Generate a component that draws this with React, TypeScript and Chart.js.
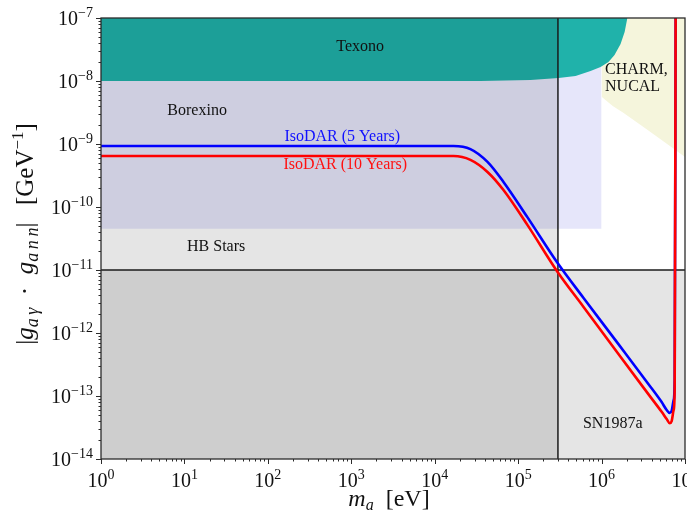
import React, { useEffect, useRef } from "react";
import { Chart, registerables } from "chart.js";

Chart.register(...registerables);

// ---- Data ----
const curveMassEv = [1, 1.68e4, 2.68e4, 4.29e4, 6.67e4, 1.29e5, 2.97e5, 6.08e5, 1.56e6, 3.87e6, 5.25e6, 6.03e6, 6.55e6, 6.92e6, 7.31e6, 7.52e6, 7.73e6];
const isodar5Years = [9.3e-10, 9.3e-10, 8.3e-10, 5.2e-10, 2.5e-10, 6.9e-11, 1.29e-11, 3.6e-12, 6.9e-13, 1.39e-13, 8.0e-14, 6.0e-14, 5.4e-14, 5.8e-14, 8.6e-14, 1.8e-13, 2e-7];
const isodar10Years = [6.45e-10, 6.45e-10, 5.6e-10, 3.6e-10, 1.86e-10, 5.2e-11, 9.3e-12, 2.59e-12, 4.8e-13, 9.6e-14, 5.6e-14, 4.3e-14, 3.7e-14, 4.0e-14, 6.0e-14, 1.24e-13, 2e-7];

const texonoMass = [1, 3.53e4, 1.41e5, 3.05e5, 4.88e5, 7.38e5, 9.73e5, 1.21e6, 1.43e6, 1.69e6, 1.89e6, 2.05e6];
const texonoFloor = [1e-8, 1e-8, 1.04e-8, 1.12e-8, 1.2e-8, 1.44e-8, 1.67e-8, 2.0e-8, 2.59e-8, 3.87e-8, 6.0e-8, 1.04e-7];

const charmMass = [1e6, 1e6, 1.36e6, 1.84e6, 3.57e6, 7.12e6, 1e7];
const charmFloor = [1e-7, 5.6e-9, 4.0e-9, 3.1e-9, 1.67e-9, 8.65e-10, 6.2e-10];

const borexinoMass = [1, 1e6];
const borexinoFloor = [4.5e-11, 4.5e-11];

const hbMass = [1, 3e5];
const hbTop = [1e-7, 1e-7];
const hbEdgeMass = [3e5, 3e5];
const hbEdgeCoupling = [1e-14, 1e-7];

const snMass = [1, 1e7];
const snCeiling = [1e-11, 1e-11];

const xTickExps = [0, 1, 2, 3, 4, 5, 6, 7];
const yTickExps = [-14, -13, -12, -11, -10, -9, -8, -7];

const regionLabels = [
  { text: "Texono", x: 1.28e3, y: 3.5e-8, color: "#111", align: "center" },
  { text: "Borexino", x: 14.2, y: 3.34e-9, color: "#111", align: "center" },
  { text: "IsoDAR (5 Years)", x: 780, y: 1.29e-9, color: "#1010ff", align: "center" },
  { text: "IsoDAR (10 Years)", x: 848, y: 4.64e-10, color: "#ff1010", align: "center" },
  { text: "HB Stars", x: 24, y: 2.3e-11, color: "#111", align: "center" },
  { text: "CHARM,", x: 1.1e6, y: 1.5e-8, color: "#111", align: "left" },
  { text: "NUCAL", x: 1.1e6, y: 8.0e-9, color: "#111", align: "left" },
  { text: "SN1987a", x: 1.36e6, y: 3.6e-14, color: "#111", align: "center" },
];

const SERIF = '"Liberation Serif", "DejaVu Serif", serif';
const SUP_DIGITS: Record<string, string> = { "-": "\u2212" };

type Run = { text: string; font: string; dy: number };

function runsWidth(ctx: CanvasRenderingContext2D, runs: Run[]) {
  let w = 0;
  for (const r of runs) {
    ctx.font = r.font;
    w += ctx.measureText(r.text).width;
  }
  return w;
}

function drawRuns(ctx: CanvasRenderingContext2D, runs: Run[], x: number, y: number, align: string) {
  const total = runsWidth(ctx, runs);
  let cx = align === "center" ? x - total / 2 : align === "right" ? x - total : x;
  ctx.textAlign = "left";
  ctx.textBaseline = "alphabetic";
  for (const r of runs) {
    ctx.font = r.font;
    ctx.fillText(r.text, cx, y + r.dy);
    cx += ctx.measureText(r.text).width;
  }
}

function supText(e: number) {
  return String(e)
    .split("")
    .map((c) => SUP_DIGITS[c] ?? c)
    .join("");
}

const axesPlugin = {
  id: "axesPlugin",
  afterDraw(chart: any) {
    const { ctx, chartArea } = chart;
    const { left, right, top, bottom } = chartArea;
    const xs = chart.scales.x;
    const ys = chart.scales.y;
    ctx.save();

    // region labels
    ctx.textBaseline = "middle";
    for (const l of regionLabels) {
      ctx.font = `16px ${SERIF}`;
      ctx.fillStyle = l.color;
      ctx.textAlign = l.align as CanvasTextAlign;
      ctx.fillText(l.text, xs.getPixelForValue(l.x), ys.getPixelForValue(l.y));
    }

    // frame
    ctx.strokeStyle = "#2b2b2b";
    ctx.lineWidth = 1.3;
    ctx.strokeRect(left, top, right - left, bottom - top);

    // ticks
    ctx.lineWidth = 1;
    ctx.strokeStyle = "#2b2b2b";
    ctx.beginPath();
    for (const e of xTickExps) {
      for (let k = 1; k <= 9; k++) {
        const v = k * Math.pow(10, e);
        if (v < xs.min * 0.999 || v > xs.max * 1.001) continue;
        const px = Math.round(xs.getPixelForValue(v)) + 0.5;
        const len = k === 1 ? 5 : 2.5;
        ctx.moveTo(px, bottom);
        ctx.lineTo(px, bottom + len);
      }
    }
    for (const e of yTickExps) {
      for (let k = 1; k <= 9; k++) {
        const v = k * Math.pow(10, e);
        if (v < ys.min * 0.999 || v > ys.max * 1.001) continue;
        const py = Math.round(ys.getPixelForValue(v)) + 0.5;
        const len = k === 1 ? 5 : 2.5;
        ctx.moveTo(left, py);
        ctx.lineTo(left - len, py);
      }
    }
    ctx.stroke();

    // tick labels
    ctx.fillStyle = "#111";
    for (const e of xTickExps) {
      const px = xs.getPixelForValue(Math.pow(10, e));
      drawRuns(
        ctx,
        [
          { text: "10", font: `20px ${SERIF}`, dy: 0 },
          { text: supText(e), font: `14px ${SERIF}`, dy: -8 },
        ],
        px,
        bottom + 28,
        "center"
      );
    }
    for (const e of yTickExps) {
      const py = ys.getPixelForValue(Math.pow(10, e));
      drawRuns(
        ctx,
        [
          { text: "10", font: `20px ${SERIF}`, dy: 0 },
          { text: supText(e), font: `14px ${SERIF}`, dy: -8 },
        ],
        left - 8,
        py + 7,
        "right"
      );
    }

    // x title
    drawRuns(
      ctx,
      [
        { text: "m", font: `italic 24px ${SERIF}`, dy: 0 },
        { text: "a", font: `italic 16px ${SERIF}`, dy: 4 },
        { text: "  [eV]", font: `24px ${SERIF}`, dy: 0 },
      ],
      (left + right) / 2 - 4,
      bottom + 47,
      "center"
    );

    // y title
    ctx.translate(25, 234);
    ctx.rotate(-Math.PI / 2);
    drawRuns(
      ctx,
      [
        { text: "|", font: `25px ${SERIF}`, dy: 0 },
        { text: "g", font: `italic 25px ${SERIF}`, dy: 0 },
        { text: "a\u2009\u03b3", font: `italic 18px ${SERIF}`, dy: 5 },
        { text: "\u2002\u00b7\u2002", font: `25px ${SERIF}`, dy: 0 },
        { text: "g", font: `italic 25px ${SERIF}`, dy: 0 },
        { text: "a\u2009n\u2009n", font: `italic 18px ${SERIF}`, dy: 5 },
        { text: "|\u2002\u2009[GeV", font: `25px ${SERIF}`, dy: 0 },
        { text: "\u22121", font: `17px ${SERIF}`, dy: -10 },
        { text: "]", font: `25px ${SERIF}`, dy: 0 },
      ],
      0,
      8,
      "center"
    );
    ctx.restore();
  },
};

const zip = (xs: number[], ys: number[]) => xs.map((x, i) => ({ x, y: ys[i] }));

export default function App() {
  const canvasRef = useRef<HTMLCanvasElement | null>(null);

  useEffect(() => {
    if (!canvasRef.current) return;
    const region = (data: any[], fill: any, bg: string, border = 0, borderColor = "transparent") => ({
      data,
      fill,
      backgroundColor: bg,
      borderColor,
      borderWidth: border,
      pointRadius: 0,
      tension: 0,
    });
    const chart = new Chart(canvasRef.current, {
      type: "line",
      data: {
        datasets: [
          {
            data: zip(curveMassEv, isodar10Years),
            borderColor: "#ff0000",
            borderWidth: 2.6,
            pointRadius: 0,
            fill: false,
            cubicInterpolationMode: "monotone",
          },
          {
            data: zip(curveMassEv, isodar5Years),
            borderColor: "#0000ff",
            borderWidth: 2.6,
            pointRadius: 0,
            fill: false,
            cubicInterpolationMode: "monotone",
          },
          region(zip(hbEdgeMass, hbEdgeCoupling), false, "transparent", 1.5, "#1a1a1a"),
          region(zip(snMass, snCeiling), "start", "rgba(0,0,0,0.1)", 1.5, "#1a1a1a"),
          region(zip(hbMass, hbTop), "start", "rgba(0,0,0,0.1)"),
          region(zip(texonoMass, texonoFloor), "end", "#20b2aa"),
          region(zip(charmMass, charmFloor), "end", "#f5f5dc"),
          region(zip(borexinoMass, borexinoFloor), "end", "#e6e6fa"),
        ] as any,
      },
      options: {
        animation: false,
        responsive: false,
        devicePixelRatio: 1,
        layout: { padding: { left: 101, right: 2, top: 18, bottom: 60 } },
        plugins: { legend: { display: false }, tooltip: { enabled: false } },
        scales: {
          x: { type: "logarithmic", min: 1, max: 1e7, display: false },
          y: { type: "logarithmic", min: 1e-14, max: 1e-7, display: false },
        },
      } as any,
      plugins: [axesPlugin],
    });
    return () => chart.destroy();
  }, []);

  return (
    <div style={{ position: "absolute", left: 0, top: 0, width: 687, height: 519, background: "#fff" }}>
      <canvas ref={canvasRef} width={687} height={519} style={{ display: "block" }} />
    </div>
  );
}
